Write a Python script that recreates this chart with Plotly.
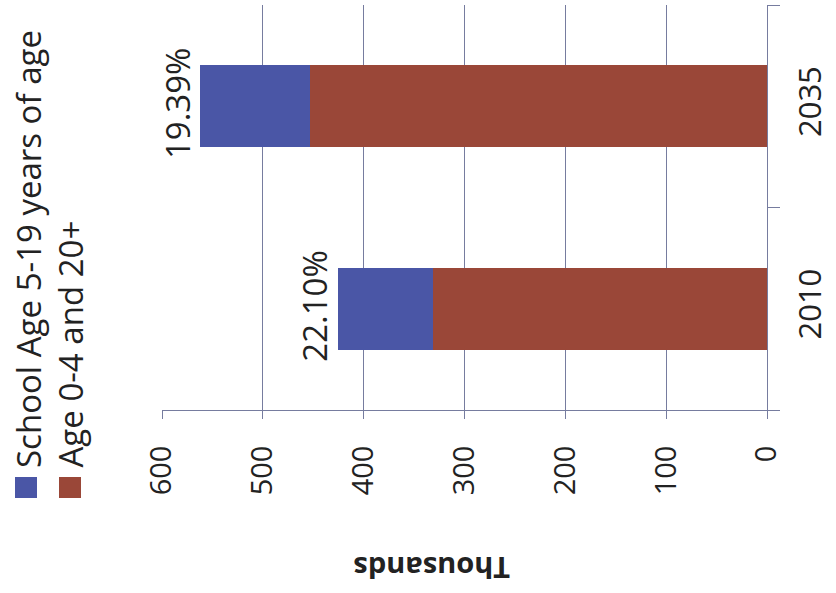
import plotly.graph_objects as go

categories = ["2010", "2035"]
school_age = [94, 109]          # thousands, School Age 5-19 years of age
other_age = [331, 453]          # thousands, Age 0-4 and 20+
pct_labels = ["22.10%", "19.39%"]
tick_vals = [0, 100, 200, 300, 400, 500, 600]
series_names = ["School Age 5-19 years of age", "Age 0-4 and 20+"]
colors = ["#4A56A6", "#9A4738"]

W, H = 836, 593
L, R, T, B = 162, 69, 5, 183
PW, PH = W - L - R, H - T - B
FONT = "Open Sans"
GRID = "#767c9f"

def px2paper(px, py):
    return (px - L) / PW, (H - B - py) / PH

fig = go.Figure()
fig.add_trace(go.Bar(y=categories, x=other_age, orientation="h", name=series_names[1],
                     marker=dict(color=colors[1], line=dict(width=0)), showlegend=False))
fig.add_trace(go.Bar(y=categories, x=school_age, orientation="h", name=series_names[0],
                     marker=dict(color=colors[0], line=dict(width=0)), showlegend=False))

annotations = []
for i, (a, b, lab) in enumerate(zip(school_age, other_age, pct_labels)):
    annotations.append(dict(x=a + b, y=i, xref="x", yref="y", text=lab, showarrow=False,
                            textangle=-90, xanchor="right", yanchor="middle", xshift=1, yshift=3,
                            font=dict(family=FONT, size=33, color="#222")))

# Rotated legend
lx1, ly = px2paper(28, 470)
lx2, _ = px2paper(70, 470)
annotations.append(dict(x=lx1, y=ly, xref="paper", yref="paper", text=series_names[0],
                        showarrow=False, textangle=-90, xanchor="center", yanchor="bottom",
                        font=dict(family=FONT, size=33, color="#222")))
annotations.append(dict(x=lx2, y=ly, xref="paper", yref="paper", text=series_names[1],
                        showarrow=False, textangle=-90, xanchor="center", yanchor="bottom",
                        font=dict(family=FONT, size=33, color="#222")))
tx, ty = px2paper(432, 569)
annotations.append(dict(x=tx, y=ty, xref="paper", yref="paper", text="<b>Thousands</b>",
                        showarrow=False, textangle=180, xanchor="center", yanchor="middle",
                        font=dict(family=FONT, size=29, color="#222")))

shapes = []
for (x0, x1), c in zip([(15, 37), (59, 81)], colors):
    a0, b0 = px2paper(x0, 498)
    a1, b1 = px2paper(x1, 477)
    shapes.append(dict(type="rect", xref="paper", yref="paper", x0=a0, x1=a1, y0=b0, y1=b1,
                       fillcolor=c, line=dict(width=0)))

fig.update_layout(
    width=W, height=H, margin=dict(l=L, r=R, t=T, b=B),
    paper_bgcolor="white", plot_bgcolor="white",
    barmode="stack", bargap=0.595,
    annotations=annotations, shapes=shapes,
    xaxis=dict(range=[600, 0], tickvals=tick_vals, showgrid=True, gridcolor=GRID, gridwidth=1,
               zeroline=False, showline=True, linecolor=GRID, linewidth=1,
               ticks="outside", ticklen=8, tickcolor=GRID, tickangle=-90,
               ticklabelstandoff=15,
               tickfont=dict(family=FONT, size=29, color="#222")),
    yaxis=dict(type="category", categoryorder="array", categoryarray=categories, side="right",
               range=[-0.5, 1.5],
               showgrid=False, zeroline=False, showline=True, linecolor=GRID, linewidth=1,
               ticks="outside", ticklen=12, tickcolor=GRID, tickson="boundaries",
               tickangle=-90, ticklabelstandoff=16,
               tickfont=dict(family=FONT, size=31, color="#222")),
)

fig.write_html("out.html")
